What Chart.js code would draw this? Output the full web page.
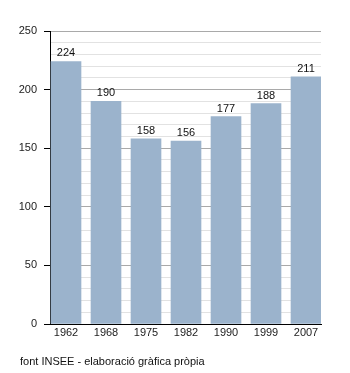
<!DOCTYPE html>
<html>
<head>
<meta charset="utf-8">
<script src="https://cdn.jsdelivr.net/npm/chart.js@4/dist/chart.umd.min.js"></script>
<style>
  html, body { margin: 0; padding: 0; background: #fff; }
  canvas { display: block; }
</style>
</head>
<body>
<canvas id="chart" width="350" height="373"></canvas>
<script>
const years = ["1962", "1968", "1975", "1982", "1990", "1999", "2007"];
const population = [224, 190, 158, 156, 177, 188, 211];
const yMax = 250;
const footer = "font INSEE - elaboració gràfica pròpia";

const font = { family: "'Liberation Sans', Arial, sans-serif", size: 11 };

// value labels above the bars + source line under the chart
const extras = {
  id: "extras",
  afterDatasetsDraw(chart) {
    const ctx = chart.ctx;
    const meta = chart.getDatasetMeta(0);
    ctx.save();
    ctx.font = "11px " + font.family;
    ctx.fillStyle = "#111";
    ctx.textAlign = "center";
    ctx.textBaseline = "alphabetic";
    meta.data.forEach((bar, i) => {
      ctx.fillText(String(population[i]), bar.x, bar.y - 5);
    });
    ctx.textAlign = "left";
    ctx.fillText(footer, 20, 365);
    ctx.restore();
  }
};

new Chart(document.getElementById("chart"), {
  type: "bar",
  data: {
    datasets: [{
      data: population.map((v, i) => ({ x: i, y: v })),
      backgroundColor: "#9bb3cc",
      barThickness: 30,
      yAxisID: "y"
    }]
  },
  options: {
    responsive: false,
    animation: false,
    layout: { padding: { left: 0, top: 31, right: 29, bottom: 0 } },
    plugins: { legend: { display: false }, tooltip: { enabled: false } },
    scales: {
      x: {
        type: "linear",
        offset: false,
        z: 1,
        min: -0.4,
        max: 6.375,
        afterBuildTicks: s => { s.ticks = years.map((_, i) => ({ value: i })); },
        afterFit: s => { s.height = 49; },
        grid: { display: false, drawTicks: false },
        border: { color: "#000", width: 1 },
        ticks: {
          font, color: "#222", padding: 2, maxRotation: 0, autoSkip: false,
          callback: v => years[v]
        }
      },
      y: {
        min: 0, max: yMax,
        weight: 0,
        afterFit: s => { s.width = 50; },
        grid: { color: "#a9a9a9", tickColor: "#000", tickLength: 6 },
        border: { color: "#000", width: 1 },
        ticks: { stepSize: 50, font, color: "#222", padding: 7 }
      },
      y2: {
        position: "left",
        min: 0, max: yMax,
        weight: 1,
        afterFit: s => { s.width = 0; },
        grid: {
          color: c => (c.tick && c.tick.value % 50 === 0) ? "rgba(0,0,0,0)" : "#e2e2e2",
          tickColor: "#000", tickLength: 3
        },
        border: { display: false },
        ticks: { stepSize: 10, display: false }
      }
    }
  },
  plugins: [extras]
});
</script>
</body>
</html>
